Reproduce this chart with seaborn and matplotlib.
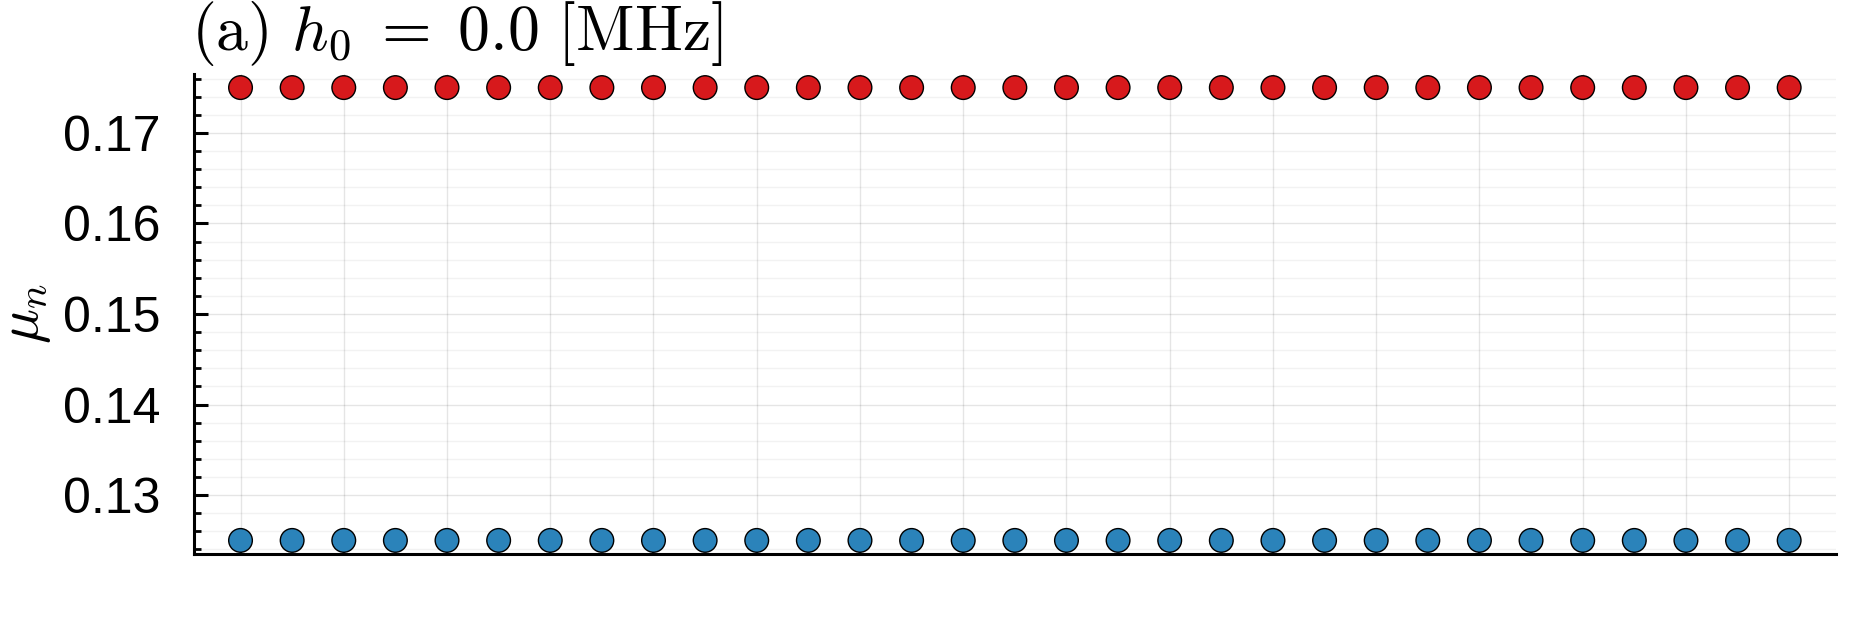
import matplotlib
matplotlib.use("Agg")
import matplotlib.pyplot as plt
import seaborn as sns
import pandas as pd
from matplotlib.ticker import MultipleLocator, NullFormatter

# dados
site_n = [0, 1, 2, 3, 4, 5, 6, 7, 8, 9, 10, 11, 12, 13, 14, 15,
          16, 17, 18, 19, 20, 21, 22, 23, 24, 25, 26, 27, 28, 29, 30]
mu_upper = [0.175, 0.175, 0.175, 0.175, 0.175, 0.175, 0.175, 0.175,
            0.175, 0.175, 0.175, 0.175, 0.175, 0.175, 0.175, 0.175,
            0.175, 0.175, 0.175, 0.175, 0.175, 0.175, 0.175, 0.175,
            0.175, 0.175, 0.175, 0.175, 0.175, 0.175, 0.175]
mu_lower = [0.125, 0.125, 0.125, 0.125, 0.125, 0.125, 0.125, 0.125,
            0.125, 0.125, 0.125, 0.125, 0.125, 0.125, 0.125, 0.125,
            0.125, 0.125, 0.125, 0.125, 0.125, 0.125, 0.125, 0.125,
            0.125, 0.125, 0.125, 0.125, 0.125, 0.125, 0.125]
panel_title = r"$\mathrm{(a)}\ h_0 \;=\; 0.0\ [\mathrm{MHz}]$"
y_label = r"$\mu_n$"

sns.set_style("white")
plt.rcParams['font.family'] = ['Liberation Sans', 'DejaVu Sans']
plt.rcParams['mathtext.fontset'] = 'cm'
plt.rcParams['text.color'] = 'black'
plt.rcParams['axes.labelcolor'] = 'black'
plt.rcParams['xtick.color'] = 'black'
plt.rcParams['ytick.color'] = 'black'

df = pd.DataFrame({
    "n": site_n + site_n,
    "mu": mu_upper + mu_lower,
    "band": ["upper"] * len(site_n) + ["lower"] * len(site_n),
})

fig = plt.figure(figsize=(18.75, 6.25), dpi=100)
ax = fig.add_axes([0.1035, 0.1136, 0.8755, 0.768])

sns.scatterplot(data=df, x="n", y="mu", hue="band",
                palette={"upper": "#d7191c", "lower": "#2b83ba"},
                s=290, edgecolor="black", linewidth=1.0,
                legend=False, zorder=3, ax=ax)

ax.set_xlim(-0.9, 30.9)
ax.set_ylim(0.1235, 0.1765)

ax.xaxis.set_major_locator(MultipleLocator(2))
ax.xaxis.set_major_formatter(NullFormatter())
ax.yaxis.set_major_locator(MultipleLocator(0.01))
ax.yaxis.set_minor_locator(MultipleLocator(0.002))
ax.yaxis.set_major_formatter(matplotlib.ticker.FormatStrFormatter("%.2f"))

ax.grid(True, which="major", color="black", alpha=0.1, linewidth=1.0)
ax.grid(True, which="minor", axis="y", color="black", alpha=0.05, linewidth=1.0)
ax.set_axisbelow(True)

for s in ["top", "right"]:
    ax.spines[s].set_visible(False)
for s in ["left", "bottom"]:
    ax.spines[s].set_linewidth(2.2)
    ax.spines[s].set_color("black")

ax.tick_params(axis="y", which="major", direction="in", length=10, width=2.2,
               labelsize=36, pad=24, left=True)
ax.tick_params(axis="y", which="minor", direction="in", length=5, width=2.0,
               left=True)
ax.tick_params(axis="x", which="major", direction="in", length=3, width=1.2,
               bottom=True, labelbottom=False)

ax.set_xlabel("")
ax.set_ylabel(y_label, fontsize=42)
ax.yaxis.set_label_coords(-0.086, 0.5)

ax.text(-0.002, 1.05, panel_title, transform=ax.transAxes,
        fontsize=46, ha="left", va="baseline")

plt.savefig("out.png", dpi=100)
